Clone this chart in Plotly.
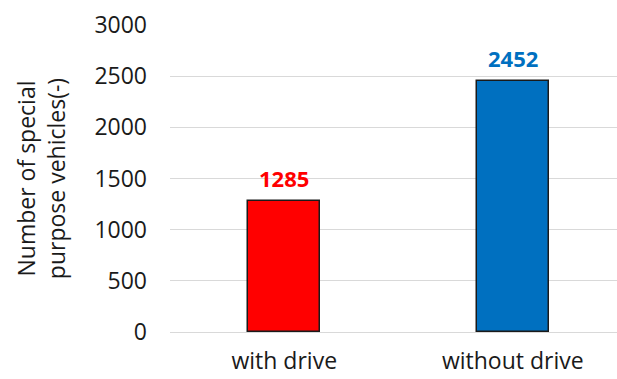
import plotly.graph_objects as go

categories = ["with drive", "without drive"]
values = [1285, 2452]
bar_colors = ["#FF0000", "#0070C0"]
label_colors = ["#FF0000", "#0070C0"]
y_ticks = [0, 500, 1000, 1500, 2000, 2500, 3000]

FONT = "Open Sans"

fig = go.Figure()
fig.add_trace(go.Bar(
    x=categories, y=values,
    marker=dict(color=bar_colors, line=dict(color="#1a1a1a", width=1.5)),
    width=0.315,
    showlegend=False,
))
for c, v, col in zip(categories, values, label_colors):
    fig.add_annotation(x=c, y=v, text=f"<b>{v}</b>", showarrow=False,
                       yanchor="bottom", yshift=6,
                       font=dict(family=FONT, size=22, color=col))

fig.update_layout(
    width=617, height=379,
    margin=dict(l=170, r=0, t=25, b=47),
    paper_bgcolor="white", plot_bgcolor="white",
    font=dict(family=FONT, size=22, color="#1a1a1a"),
    bargap=0,
)
fig.update_xaxes(range=[-0.5, 1.456], showline=False, showgrid=False,
                 zeroline=False, ticks="", ticklabelstandoff=13,
                 automargin=False,
                 tickfont=dict(family=FONT, size=23, color="#1a1a1a"))
fig.update_yaxes(range=[0, 3000], tickvals=y_ticks, showgrid=True,
                 gridcolor="#D9D9D9", gridwidth=1, zeroline=True,
                 zerolinecolor="#D9D9D9", zerolinewidth=1, showline=False,
                 ticks="", ticklabelstandoff=22, automargin=False,
                 tickfont=dict(family=FONT, size=23, color="#1a1a1a"),
                 title=dict(text="Number of special<br>purpose vehicles(-)",
                            font=dict(family=FONT, size=23, color="#1a1a1a"),
                            standoff=22))
fig.write_html("out.html")
